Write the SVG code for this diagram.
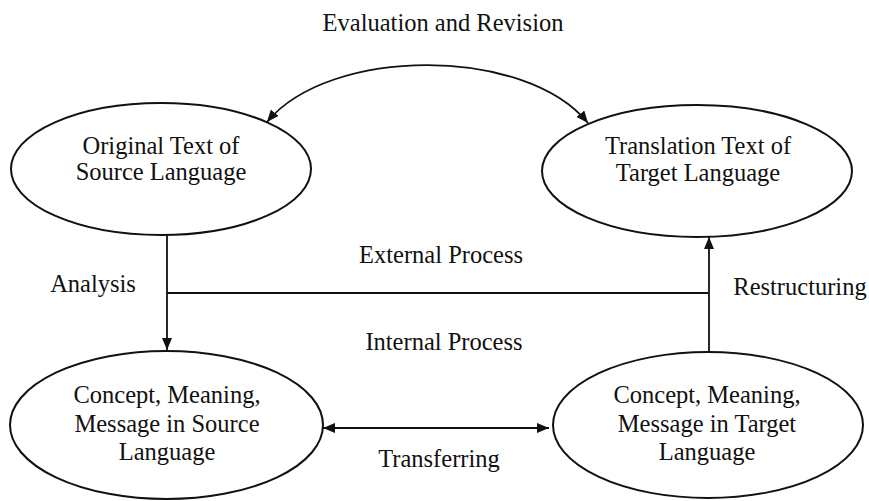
<svg xmlns="http://www.w3.org/2000/svg" width="869" height="501" viewBox="0 0 869 501">
<style>
text{font-family:"Liberation Serif","Times New Roman",serif;font-size:24.5px;fill:#111;text-anchor:middle}
.node ellipse{fill:none;stroke:#111;stroke-width:2}
.conn{fill:none;stroke:#111;stroke-width:1.8}
</style>
<defs>
<marker id="ah" viewBox="0 0 12 10" refX="12" refY="5" markerWidth="12" markerHeight="10" markerUnits="userSpaceOnUse" orient="auto-start-reverse">
<path d="M0,0 L12,5 L0,10 z" fill="#111"/>
</marker>
</defs>
<rect width="869" height="501" fill="#fff"/>
<text x="443" y="31">Evaluation and Revision</text>
<g id="n1" class="node">
<ellipse cx="161" cy="169" rx="150" ry="66"/>
<text x="161" y="154">Original Text of</text>
<text x="161" y="180">Source Language</text>
</g>
<g id="n2" class="node">
<ellipse cx="697" cy="171" rx="155" ry="66"/>
<text x="698" y="154">Translation Text of</text>
<text x="698" y="181">Target Language</text>
</g>
<g id="n3" class="node">
<ellipse cx="166.5" cy="425" rx="156.5" ry="74"/>
<text x="167" y="403">Concept, Meaning,</text>
<text x="167" y="432">Message in Source</text>
<text x="167" y="460">Language</text>
</g>
<g id="n4" class="node">
<ellipse cx="708" cy="425" rx="155" ry="73"/>
<text x="707" y="403">Concept, Meaning,</text>
<text x="707" y="432">Message in Target</text>
<text x="707" y="460">Language</text>
</g>
<g id="connectors">
<path class="conn" d="M267,122 C330,46 525,46 588,123" marker-start="url(#ah)" marker-end="url(#ah)"/>
<line class="conn" x1="167" y1="235" x2="167" y2="350" marker-end="url(#ah)"/>
<line class="conn" x1="167" y1="293" x2="709" y2="293"/>
<line class="conn" x1="709" y1="352" x2="709" y2="237" marker-end="url(#ah)"/>
<line class="conn" x1="323" y1="428" x2="549" y2="428" marker-start="url(#ah)" marker-end="url(#ah)"/>
</g>
<text x="93" y="292">Analysis</text>
<text x="441" y="263">External Process</text>
<text x="444" y="350">Internal Process</text>
<text x="439" y="467">Transferring</text>
<text x="800" y="295">Restructuring</text>
</svg>
